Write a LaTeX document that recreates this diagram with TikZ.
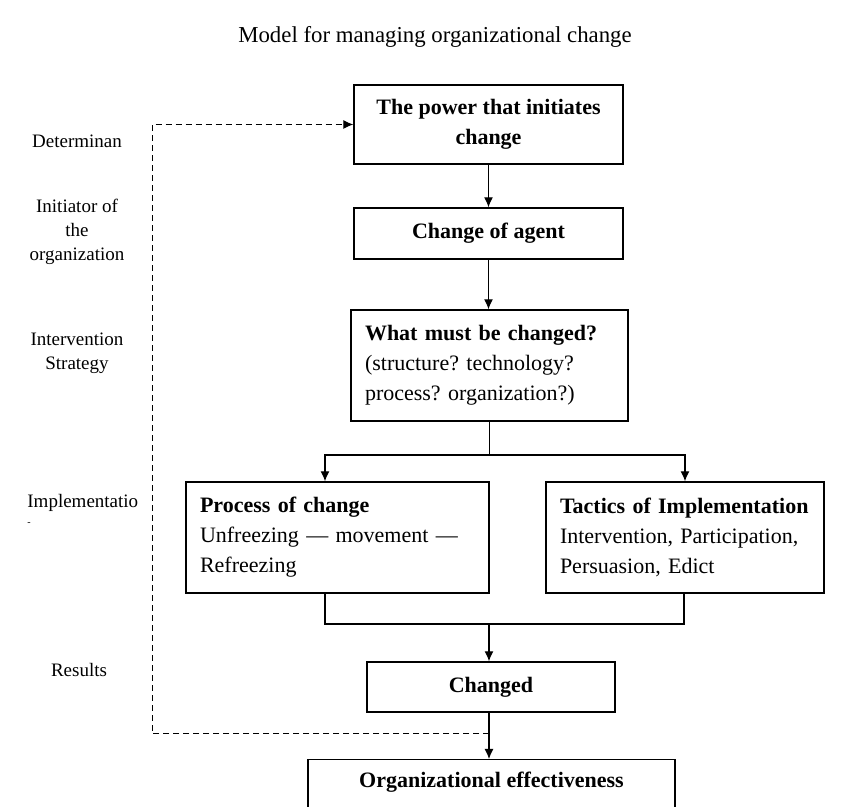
\documentclass[tikz,border=0pt]{standalone}
\usepackage{fontspec}
\setmainfont{Liberation Serif}
\usepackage{tikz}
\usetikzlibrary{arrows,arrows.meta,positioning}
\tikzset{box/.style={draw,line width=0.7pt,inner xsep=7pt,inner ysep=0pt,align=center,font=\fontsize{11}{15}\selectfont},
         lbox/.style={box,align=left},
         side/.style={inner sep=0pt,align=center,font=\fontsize{9.5}{12}\selectfont},
         conn/.style={line width=0.6pt,-{Latex[length=5pt,width=4.5pt]}},
         fback/.style={line width=0.5pt,dash pattern=on 3pt off 2pt,-{Latex[length=5pt,width=4.5pt]}}}

\begin{document}
\frenchspacing
\begin{tikzpicture}[x=0.5pt,y=-0.5pt]
            \useasboundingbox (0,0) rectangle (847,807);
            \node[font=\fontsize{11.4}{15}\selectfont] (title) at (435,37) {Model for managing organizational change};
            % main column
            \node[box,minimum width=134.5pt,minimum height=39.5pt] (power) at (488.5,124.5) {\textbf{The power that initiates}\\\textbf{change}};
            \node[box,minimum width=134.5pt,minimum height=25.5pt] (agent) at (488.5,233.5) {\textbf{Change of agent}};
            \node[lbox,text width=124.5pt,minimum height=55.5pt] (what) at (489.5,365.5) {\textbf{What must be changed?}\\(structure? technology?\\process? organization?)};
            \node[lbox,text width=137.5pt,minimum height=55.5pt] (proc) at (337.5,537.5) {\textbf{Process of change}\\Unfreezing --- movement ---\\Refreezing};
            \node[lbox,text width=125pt,minimum height=55.5pt] (tact) at (685,537.5) {\textbf{Tactics of Implementation}\\Intervention, Participation,\\Persuasion, Edict};
            \node[box,minimum width=124pt,minimum height=25pt] (chgd) at (491,687) {\textbf{Changed}};
            \node[box,minimum width=183.5pt,anchor=north,inner ysep=4pt,text height=10pt,text depth=25pt] (eff) at (491.5,759) {\textbf{Organizational effectiveness}};
            % side labels
            \node[side] (det) at (77,141) {Determinan};
            \node[side] (init) at (77,232) {Initiator of\\the\\organization};
            \node[side] (strat) at (77,353) {Intervention\\Strategy};
            \node[side,anchor=north west,align=left] (impl) at (27,494) {Implementatio\\[-3pt]{\tiny -}};
            \node[side] (res) at (79,670) {Results};
            % connectors
            \coordinate (brl) at (325,455);
            \coordinate (brr) at (685,455);
            \coordinate (mgl) at (325,624);
            \coordinate (mgr) at (684,624);
            \coordinate (mid) at (489,624);
            \coordinate (fb) at (489,734);
            \coordinate (fbc) at (152,124.5);
            \draw[conn] (power.south) -- (agent.north);
            \draw[conn] (agent.south) -- (agent.south |- what.north);
            \draw[conn] (what.south) |- (brl) -- (brl |- proc.north);
            \draw[conn] (what.south) |- (brr) -- (tact.north);
            \draw[line width=0.6pt] (mgl |- proc.south) -- (mgl) -- (mgr) -- (mgr |- tact.south);
            \draw[conn] (mid) -- (mid |- chgd.north);
            \draw[conn] (mid |- chgd.south) -- (mid |- eff.north);
            \draw[fback] (fb) -| (fbc) -- (power.west);
        \end{tikzpicture}
\end{document}
